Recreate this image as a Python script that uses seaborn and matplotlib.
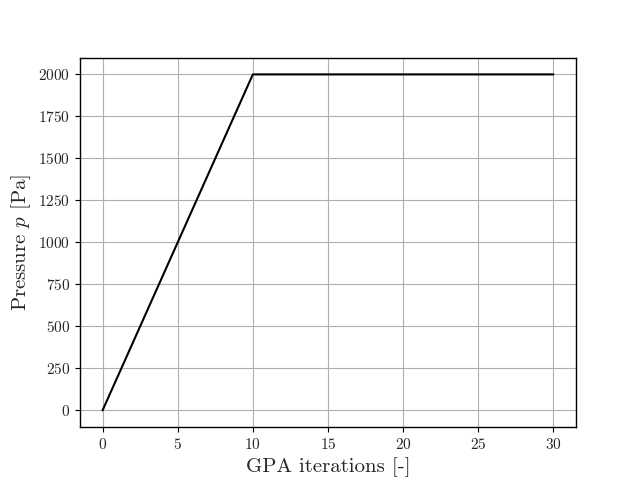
import numpy as np
import pandas as pd
import matplotlib
matplotlib.use('Agg')
import matplotlib.pyplot as plt
import seaborn as sns

# datos de la curva de presion
iteraciones = list(range(0, 31))
presion = [0, 200, 400, 600, 800, 1000, 1200, 1400, 1600, 1800, 2000] + [2000] * 20

sns.set_style('white')
plt.rcParams['font.family'] = ['cmr10', 'DejaVu Serif']
plt.rcParams['mathtext.fontset'] = 'cm'
plt.rcParams['axes.formatter.use_mathtext'] = True
plt.rcParams['axes.unicode_minus'] = False

df = pd.DataFrame({'it': iteraciones, 'p': presion})

fig, ax = plt.subplots(figsize=(6.4, 4.8), dpi=100)
sns.lineplot(data=df, x='it', y='p', color='black', linewidth=1.5, ax=ax)
ax.set_xticks([0, 5, 10, 15, 20, 25, 30])
ax.set_yticks(np.arange(0, 2001, 250))
ax.grid(True, color='#b0b0b0', linewidth=0.8)
for s in ax.spines.values():
    s.set_color('black')
    s.set_linewidth(1.0)
ax.tick_params(axis='both', which='major', labelsize=11, length=3.5, width=0.8,
               direction='out', bottom=True, left=True, color='black')
ax.set_xlabel('GPA iterations [-]', fontsize=15)
ax.set_ylabel('Pressure $p$ [Pa]', fontsize=15)
fig.savefig('out.png', dpi=100)
